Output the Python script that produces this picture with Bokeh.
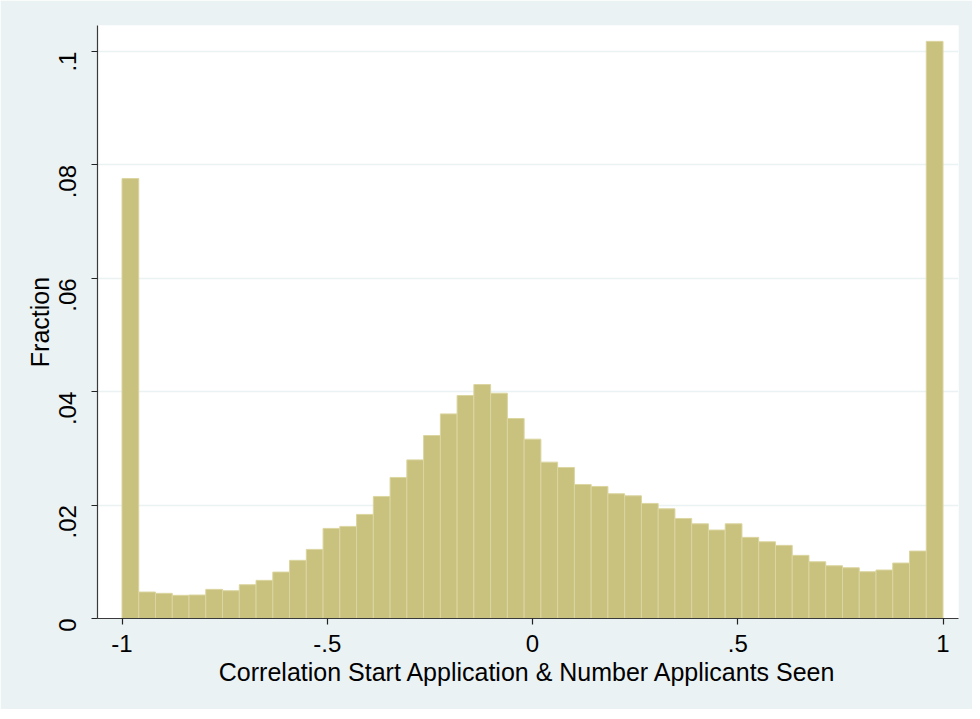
from bokeh.plotting import figure
from bokeh.models import Range1d, FixedTicker, CustomJSTickFormatter, ColumnDataSource
from bokeh.embed import file_html
from bokeh.resources import INLINE
import math

# Histogram data (49 bins from -1 to 1)
bin_start = -1.0
bin_end = 1.0
fractions = [
    0.0776, 0.00467, 0.00444, 0.00409, 0.00414, 0.00514, 0.00490, 0.00596, 0.00673, 0.00819,
    0.01026, 0.01219, 0.01589, 0.01625, 0.01836, 0.02153, 0.02488, 0.02798, 0.03228, 0.03609,
    0.03933, 0.04127, 0.03974, 0.03528, 0.03163, 0.02758, 0.02664, 0.02364, 0.02329, 0.02200,
    0.02164, 0.02030, 0.01935, 0.01765, 0.01670, 0.01560, 0.01670, 0.01431, 0.01353, 0.01290,
    0.01114, 0.01001, 0.00930, 0.00895, 0.00825, 0.00855, 0.00978, 0.01189, 0.1018,
]
x_ticks = [-1, -0.5, 0, 0.5, 1]
y_ticks = [0, 0.02, 0.04, 0.06, 0.08, 0.1]
x_title = "Correlation Start Application & Number Applicants Seen"
y_title = "Fraction"

n = len(fractions)
w = (bin_end - bin_start) / n
lefts = [bin_start + i * w for i in range(n)]
rights = [bin_start + (i + 1) * w for i in range(n)]
src = ColumnDataSource(dict(left=lefts, right=rights, top=fractions, bottom=[0] * n))

p = figure(width=972, height=709, output_backend="svg", toolbar_location=None,
           x_range=Range1d(-1.0597, 1.0377), y_range=Range1d(0, 0.1046),
           min_border_left=97, min_border_right=14, min_border_top=25, min_border_bottom=91)
p.border_fill_color = "#EAF2F3"
p.background_fill_color = "#FFFFFF"
p.outline_line_color = None

p.quad(left="left", right="right", top="top", bottom="bottom", source=src,
       fill_color="#C9C17E", line_color="#DBD5A0", line_width=1)

fmt = CustomJSTickFormatter(code="""
var s = (Math.round(tick*100)/100).toString();
return s.replace(/^0\\./, '.').replace(/^-0\\./, '-.');
""")

font = "Liberation Sans"
for ax in (p.xaxis[0], p.yaxis[0]):
    ax.formatter = fmt
    ax.axis_line_color = "#3a3a3a"
    ax.axis_line_width = 1.2
    ax.major_tick_line_color = "#222222"
    ax.major_tick_line_width = 1.2
    ax.major_tick_out = 6
    ax.major_tick_in = 0
    ax.minor_tick_line_color = None
    ax.major_label_text_font = font
    ax.major_label_text_font_size = "24px"
    ax.major_label_text_color = "#000000"
    ax.axis_label_text_font = font
    ax.axis_label_text_font_size = "25px"
    ax.axis_label_text_font_style = "normal"
    ax.axis_label_text_color = "#000000"

p.xaxis.ticker = FixedTicker(ticks=x_ticks)
p.yaxis.ticker = FixedTicker(ticks=y_ticks)
p.xaxis.axis_label = x_title
p.yaxis.axis_label = y_title
p.yaxis.major_label_orientation = math.pi / 2
p.xaxis.major_label_standoff = 10
p.yaxis.major_label_standoff = 24
p.xaxis.axis_label_standoff = 3
p.yaxis.axis_label_standoff = -6

p.xgrid.grid_line_color = None
p.ygrid.grid_line_color = "#EAF2F3"
p.ygrid.grid_line_width = 1.5
p.ygrid.ticker = FixedTicker(ticks=y_ticks)

open("out.html", "w").write(file_html(p, INLINE))
